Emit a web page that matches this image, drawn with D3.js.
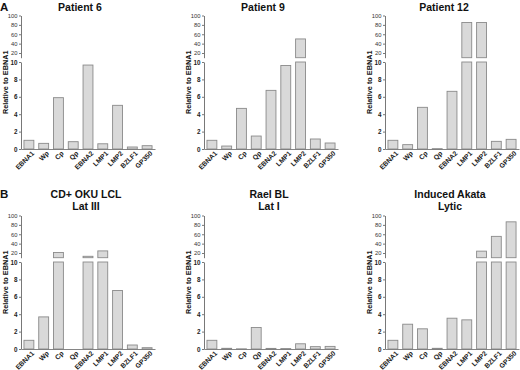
<!DOCTYPE html>
<html><head><meta charset="utf-8">
<script src="https://cdn.jsdelivr.net/npm/d3@7"></script>
<style>
html,body{margin:0;padding:0;background:#fff;}
svg{display:block;font-family:"Liberation Sans",Arial,sans-serif;}
</style></head>
<body>
<svg id="chart" width="520" height="370"></svg>
<script>
const categories = ["EBNA1","Wp","Cp","Qp","EBNA2","LMP1","LMP2","BZLF1","GP350"];
const patient6   = [1.0, 0.65, 5.9, 0.84, 9.65, 0.6, 5.02, 0.23, 0.38];
const patient9   = [1.0, 0.34, 4.67, 1.49, 6.74, 9.6, 50, 1.15, 0.69];
const patient12  = [1.0, 0.5, 4.79, 0.04, 6.63, 85, 85, 0.88, 1.11];
const okuLCL     = [1.0, 3.69, 21, 0, 13, 24.5, 6.73, 0.46, 0.15];
const raelBL     = [1.0, 0.08, 0.02, 2.47, 0.07, 0.05, 0.6, 0.27, 0.3];
const akataLytic = [1.0, 2.85, 2.32, 0.08, 3.54, 3.35, 24, 55.5, 86.5];
const lowerTicks = [0, 2, 4, 6, 8, 10];
const upperTicks = [20, 40, 60, 80, 100];
const panelTitles = [["Patient 6"],["Patient 9"],["Patient 12"],["CD+ OKU LCL","Lat III"],["Rael BL","Lat I"],["Induced Akata","Lytic"]];
const panelLetters = ["A","B"];
const yLabel = "Relative to EBNA1";

const series = [patient6, patient9, patient12, okuLCL, raelBL, akataLytic];
const svg = d3.select("#chart");
const colX = [21, 204, 385];
const plotW = 134;
const breakVal = 10;

series.forEach((vals, i) => {
  const row = Math.floor(i / 3), col = i % 3;
  const dy = row * 200;
  const x0 = colX[col];
  const g = svg.append("g");
  const x = d3.scaleBand().domain(categories).range([x0, x0 + plotW]).paddingInner(0.33).paddingOuter(0.2);
  const yLow = d3.scaleLinear().domain([0, breakVal]).range([149 + dy, 62 + dy]);
  const yUp = d3.scaleLinear().domain([breakVal, 100]).range([57.7 + dy, 15.5 + dy]);

  // bars
  const data = categories.map((c, k) => ({c, v: vals[k]})).filter(d => d.v > 0);
  g.selectAll("rect.low").data(data).join("rect")
    .attr("x", d => x(d.c)).attr("width", x.bandwidth())
    .attr("y", d => yLow(Math.min(d.v, breakVal)))
    .attr("height", d => yLow(0) - yLow(Math.min(d.v, breakVal)))
    .attr("fill", "#d9d9d9").attr("stroke", "#8a8a8a").attr("stroke-width", 0.9);
  g.selectAll("rect.up").data(data.filter(d => d.v > breakVal)).join("rect")
    .attr("x", d => x(d.c)).attr("width", x.bandwidth())
    .attr("y", d => yUp(d.v))
    .attr("height", d => yUp(breakVal) - yUp(d.v))
    .attr("fill", "#d9d9d9").attr("stroke", "#8a8a8a").attr("stroke-width", 0.9);

  // lower y axis
  const axL = g.append("g").attr("transform", `translate(${x0},0)`)
    .call(d3.axisLeft(yLow).tickValues(lowerTicks).tickSize(2).tickSizeOuter(0).tickPadding(1.5));
  axL.selectAll("text").attr("font-size", 6.3).attr("font-weight", "bold").attr("fill", "#222").attr("font-family", "Liberation Sans, Arial, sans-serif");
  axL.selectAll("line,path").attr("stroke", "#555").attr("stroke-width", 0.8);

  // upper y axis
  const axU = g.append("g").attr("transform", `translate(${x0},0)`)
    .call(d3.axisLeft(yUp).tickValues(upperTicks).tickSize(2).tickSizeOuter(0).tickPadding(1.5));
  axU.selectAll("text").attr("font-size", 5.8).attr("fill", "#333").attr("font-family", "Liberation Sans, Arial, sans-serif");
  axU.selectAll("line,path").attr("stroke", "#555").attr("stroke-width", 0.8);

  // x axis
  const axX = g.append("g").attr("transform", `translate(0,${yLow(0)})`)
    .call(d3.axisBottom(x).tickSize(0).tickSizeOuter(0).tickPadding(3));
  axX.select("path").attr("stroke", "#777").attr("stroke-width", 0.9);
  axX.selectAll("text")
    .attr("font-size", 6.8).attr("font-weight", "bold").attr("fill", "#222")
    .attr("font-family", "Liberation Sans, Arial, sans-serif")
    .attr("text-anchor", "end").attr("dy", "0.35em")
    .attr("transform", "translate(2,1) rotate(-45)");

  // y label
  const yc = (yLow(0) + yUp(100)) / 2;
  g.append("text")
    .attr("transform", `translate(${x0 - 13},${yc}) rotate(-90)`)
    .attr("text-anchor", "middle").attr("font-size", 7.3).attr("font-weight", "bold").attr("fill", "#111")
    .text(yLabel);

  // title
  const lines = panelTitles[i];
  const tx = x0 + (row === 0 ? 59 : 65);
  lines.forEach((t, li) => {
    g.append("text")
      .attr("x", tx).attr("y", (row === 0 ? 11 : 197.5) + li * 12.5)
      .attr("text-anchor", "middle").attr("font-size", 10.5).attr("font-weight", "bold").attr("fill", "#111")
      .text(t);
  });
});

panelLetters.forEach((l, r) => {
  svg.append("text").attr("x", 0).attr("y", 11 + r * 187)
    .attr("font-size", 11.5).attr("font-weight", "bold").attr("fill", "#111").text(l);
});
</script>
</body></html>
